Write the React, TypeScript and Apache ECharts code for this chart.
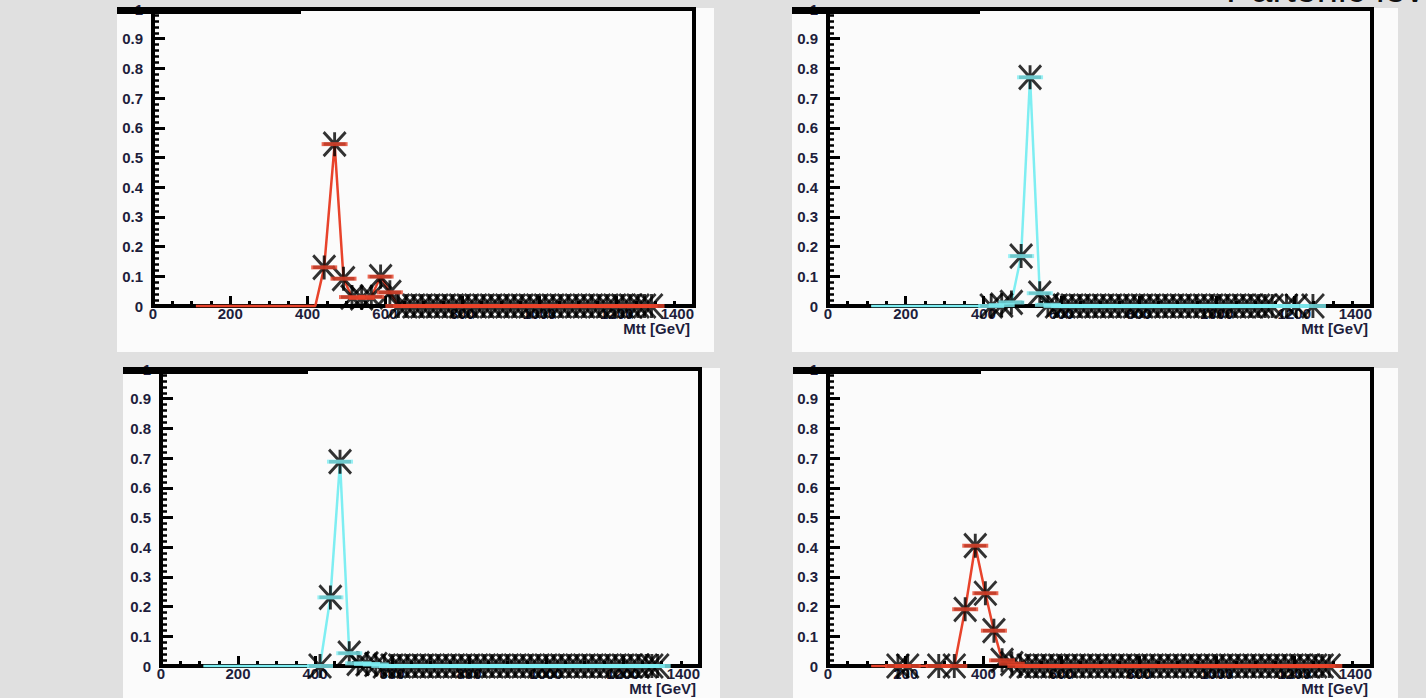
import React, { useEffect, useRef } from 'react';
import * as echarts from 'echarts';

const RED = '#e8432b';
const CYAN = '#7eeef2';
const LABEL = '#1e1e3c';
const FONT = '"Liberation Sans", Arial, sans-serif';

const xTicks = [0, 200, 400, 600, 800, 1000, 1200, 1400];
const yTicks = [0, 0.1, 0.2, 0.3, 0.4, 0.5, 0.6, 0.7, 0.8, 0.9, 1];
const xTitle = 'Mtt [GeV]';
const pageTitle = 'Partonic level';

// top-left panel (red)
const tlLeadX = [111, 420];
const tlLeadY = [0, 0];
const tlX = [443, 470, 493, 515, 540, 565, 589, 613, 635, 655, 675, 695, 715, 735, 755, 775, 795, 815, 835, 855, 875, 895, 915, 935, 955, 975, 995, 1015, 1035, 1055, 1075, 1095, 1115, 1135, 1155, 1175, 1195, 1215, 1235, 1255, 1272, 1290];
const tlY = [0.13, 0.545, 0.092, 0.03, 0.027, 0.031, 0.099, 0.046, 0, 0, 0, 0, 0, 0, 0, 0, 0, 0, 0, 0, 0, 0, 0, 0, 0, 0, 0, 0, 0, 0, 0, 0, 0, 0, 0, 0, 0, 0, 0, 0, 0, 0];

// top-right panel (cyan)
const trLeadX = [111];
const trLeadY = [0];
const trX = [420, 447, 472, 497, 520, 545, 566, 588, 608, 628, 648, 668, 688, 708, 728, 748, 768, 788, 808, 828, 848, 868, 888, 908, 928, 948, 968, 988, 1008, 1028, 1048, 1068, 1088, 1108, 1125, 1143, 1180, 1205, 1248];
const trY = [0, 0.003, 0.012, 0.168, 0.77, 0.043, 0.004, 0, 0, 0, 0, 0, 0, 0, 0, 0, 0, 0, 0, 0, 0, 0, 0, 0, 0, 0, 0, 0, 0, 0, 0, 0, 0, 0, 0, 0, 0, 0, 0];

// bottom-left panel (cyan)
const blLeadX = [110];
const blLeadY = [0];
const blX = [413, 440, 465, 489, 512, 535, 558, 580, 600, 620, 640, 660, 680, 700, 720, 740, 760, 780, 800, 820, 840, 860, 880, 900, 920, 940, 960, 980, 1000, 1020, 1040, 1060, 1080, 1100, 1120, 1140, 1160, 1180, 1200, 1220, 1240, 1260, 1275, 1290];
const blY = [0, 0.231, 0.688, 0.043, 0.009, 0.007, 0.005, 0, 0, 0, 0, 0, 0, 0, 0, 0, 0, 0, 0, 0, 0, 0, 0, 0, 0, 0, 0, 0, 0, 0, 0, 0, 0, 0, 0, 0, 0, 0, 0, 0, 0, 0, 0, 0];

// bottom-right panel (red)
const brLeadX = [111];
const brLeadY = [0];
const brX = [180, 205, 285, 325, 353, 379, 405, 427, 448, 473, 495, 515, 535, 555, 575, 595, 615, 635, 655, 675, 695, 715, 735, 755, 775, 795, 815, 835, 855, 875, 895, 915, 935, 955, 975, 995, 1015, 1035, 1055, 1075, 1095, 1115, 1135, 1155, 1175, 1195, 1215, 1235, 1255, 1272, 1290];
const brY = [0, 0, 0, 0, 0.191, 0.405, 0.245, 0.119, 0.019, 0.008, 0, 0, 0, 0, 0, 0, 0, 0, 0, 0, 0, 0, 0, 0, 0, 0, 0, 0, 0, 0, 0, 0, 0, 0, 0, 0, 0, 0, 0, 0, 0, 0, 0, 0, 0, 0, 0, 0, 0, 0, 0];

const panels = [
  { leadX: tlLeadX, leadY: tlLeadY, x: tlX, y: tlY, color: RED, grid: { left: 153, top: 9, width: 541, height: 297 }, bg: [117, 8, 597, 344], bar: [117, 7, 184, 7] },
  { leadX: trLeadX, leadY: trLeadY, x: trX, y: trY, color: CYAN, grid: { left: 828, top: 9, width: 544, height: 297 }, bg: [792, 8, 606, 344], bar: [792, 7, 188, 7] },
  { leadX: blLeadX, leadY: blLeadY, x: blX, y: blY, color: CYAN, grid: { left: 161, top: 369, width: 539, height: 297 }, bg: [123, 368, 597, 330], bar: [123, 367, 185, 7] },
  { leadX: brLeadX, leadY: brLeadY, x: brX, y: brY, color: RED, grid: { left: 828, top: 369, width: 544, height: 297 }, bg: [793, 368, 605, 330], bar: [793, 367, 188, 7] },
];

const ASTERISK = 'path://M0,0L24,24M24,0L0,24M12,0L12,24M0,12L24,12';

export default function App() {
  const ref = useRef<HTMLDivElement>(null);
  useEffect(() => {
    if (!ref.current) return;
    const chart = echarts.init(ref.current, undefined, { renderer: 'svg' });
    const labelStyle = { color: LABEL, fontSize: 15, fontWeight: 'bold', fontFamily: FONT };
    const grids: any[] = [];
    const xAxes: any[] = [];
    const yAxes: any[] = [];
    const series: any[] = [];
    const graphics: any[] = [];
    panels.forEach((p, i) => {
      grids.push({ ...p.grid, show: true, borderColor: '#000', borderWidth: 4, backgroundColor: 'transparent' });
      xAxes.push({
        type: 'value', gridIndex: i, min: xTicks[0], max: xTicks[xTicks.length - 1], interval: xTicks[1] - xTicks[0],
        axisLine: { show: true, onZero: false, lineStyle: { color: '#000', width: 4 } },
        axisTick: { show: true, inside: true, length: 10, lineStyle: { color: '#000', width: 3 } },
        minorTick: { show: true, splitNumber: 4, length: 5, lineStyle: { color: '#000', width: 3 } },
        splitLine: { show: false },
        axisLabel: { ...labelStyle, margin: 0, alignMaxLabel: 'right', showMinLabel: true, showMaxLabel: true, formatter: (v: number) => String(v) },
      });
      yAxes.push({
        type: 'value', gridIndex: i, min: yTicks[0], max: yTicks[yTicks.length - 1], interval: yTicks[1] - yTicks[0],
        axisLine: { show: true, lineStyle: { color: '#000', width: 4 } },
        axisTick: { show: true, inside: true, length: 12, lineStyle: { color: '#000', width: 3 } },
        minorTick: { show: true, splitNumber: 5, length: 6, lineStyle: { color: '#000', width: 2.5 } },
        splitLine: { show: false },
        axisLabel: { ...labelStyle, margin: 10, formatter: (v: number) => String(Math.round(v * 10) / 10) },
      });
      const lead = p.leadX.map((v, k) => [v, p.leadY[k]]);
      const pts = p.x.map((v, k) => [v, p.y[k]]);
      series.push({
        type: 'line', xAxisIndex: i, yAxisIndex: i, data: lead.concat(pts), showSymbol: false, clip: false,
        lineStyle: { color: p.color, width: 2.5 }, z: 2,
      });
      series.push({
        type: 'scatter', xAxisIndex: i, yAxisIndex: i, data: pts, symbol: ASTERISK, symbolSize: [22, 24], clip: false,
        itemStyle: { color: 'transparent', borderColor: '#000', borderWidth: 3 }, z: 3,
      });
      series.push({
        type: 'scatter', xAxisIndex: i, yAxisIndex: i, data: pts, symbol: 'rect', symbolSize: [26, 4], clip: false,
        itemStyle: { color: p.color }, z: 4,
      });
      graphics.push({ type: 'rect', z: -10, shape: { x: p.bg[0], y: p.bg[1], width: p.bg[2], height: p.bg[3] }, style: { fill: '#fbfbfb' } });
      graphics.push({ type: 'rect', z: 100, shape: { x: p.bar[0], y: p.bar[1], width: p.bar[2], height: p.bar[3] }, style: { fill: '#000' } });
      graphics.push({
        type: 'text', z: 50, x: p.grid.left + p.grid.width - 4, y: p.grid.top + p.grid.height + 15,
        style: { text: xTitle, fontSize: 15, fontWeight: 'bold', fontFamily: FONT, fill: LABEL, align: 'right', verticalAlign: 'top' },
      });
    });
    graphics.push({ type: 'text', z: 100, x: 1226, y: -11, style: { text: pageTitle, fontSize: 38, fontFamily: FONT, fill: '#111', verticalAlign: 'middle' } });
    chart.setOption({
      animation: false,
      backgroundColor: '#e0e0e0',
      grid: grids,
      xAxis: xAxes,
      yAxis: yAxes,
      series,
      graphic: { elements: graphics },
    });
    return () => chart.dispose();
  }, []);
  return <div ref={ref} style={{ position: 'fixed', left: 0, top: 0, width: 1426, height: 698 }} />;
}
